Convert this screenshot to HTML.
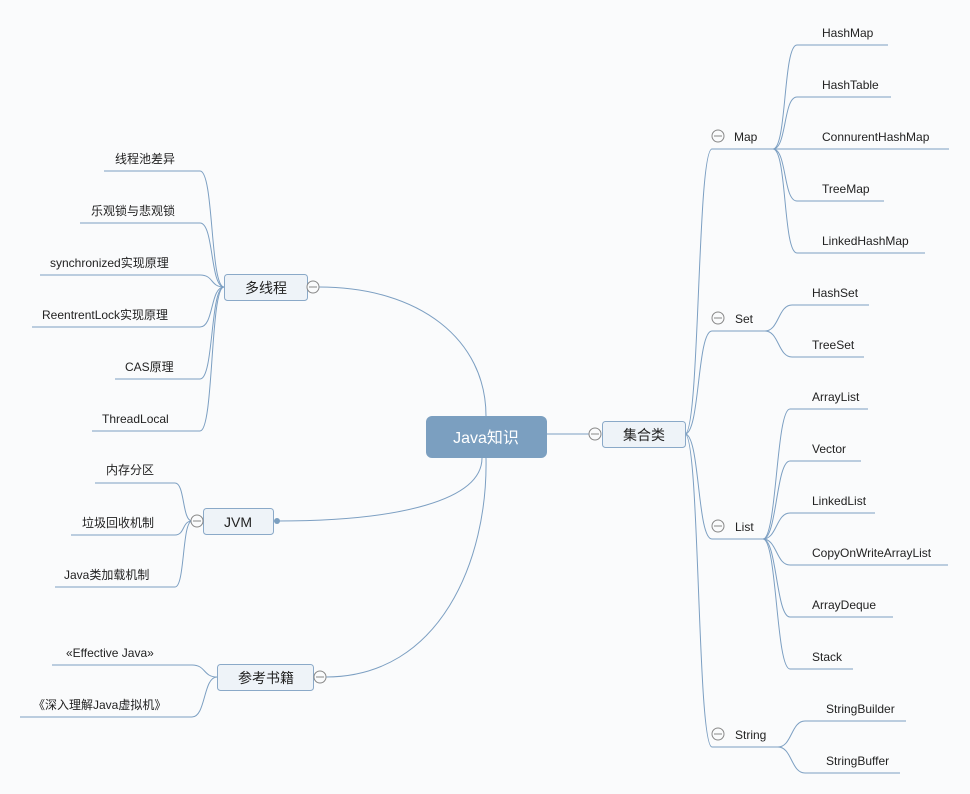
<!DOCTYPE html>
<html><head><meta charset="utf-8"><style>
html,body{margin:0;padding:0;background:#fafbfc;}
svg{display:block;font-family:"Liberation Sans","Noto Sans CJK SC",sans-serif;}
.l{fill:none;stroke:#7c9fc2;stroke-width:1;}
.t{font-size:12px;fill:#222;}
.b{font-size:14px;fill:#222;text-anchor:middle;}
.bx{fill:#eef3f8;stroke:#8aa9c8;stroke-width:1;}
.c{fill:#fafbfc;stroke:#888;stroke-width:1;}
</style></head><body>
<svg width="970" height="794" viewBox="0 0 970 794">
<rect width="970" height="794" fill="#fafbfc"/>
<!-- central connectors -->
<path class="l" d="M547 434 L589 434"/>
<path class="l" d="M319 287 C420 287 486 340 486 416"/>
<path class="l" d="M277 521 C400 521 482 500 482 458"/>
<path class="l" d="M326 677 C440 677 488 560 486 458"/>
<!-- 集合类 to secondaries -->
<path class="l" d="M685 434 C700 434 697 149 712 149 L773 149"/>
<path class="l" d="M685 434 C700 434 697 331 712 331 L765 331"/>
<path class="l" d="M685 434 C700 434 697 539 712 539 L763 539"/>
<path class="l" d="M685 434 C700 434 697 747 712 747 L778 747"/>
<!-- Map leaves -->
<path class="l" d="M773 149 C787 149 783 45 797 45 L888 45"/>
<path class="l" d="M773 149 C787 149 783 97 797 97 L891 97"/>
<path class="l" d="M773 149 L949 149"/>
<path class="l" d="M773 149 C787 149 783 201 797 201 L884 201"/>
<path class="l" d="M773 149 C787 149 783 253 797 253 L925 253"/>
<!-- Set leaves -->
<path class="l" d="M765 331 C779 331 778 305 792 305 L869 305"/>
<path class="l" d="M765 331 C779 331 778 357 792 357 L864 357"/>
<!-- List leaves -->
<path class="l" d="M763 539 C777 539 776 409 790 409 L868 409"/>
<path class="l" d="M763 539 C777 539 776 461 790 461 L861 461"/>
<path class="l" d="M763 539 C777 539 776 513 790 513 L875 513"/>
<path class="l" d="M763 539 C777 539 776 565 790 565 L948 565"/>
<path class="l" d="M763 539 C777 539 776 617 790 617 L893 617"/>
<path class="l" d="M763 539 C777 539 776 669 790 669 L853 669"/>
<!-- String leaves -->
<path class="l" d="M778 747 C792 747 791 721 805 721 L906 721"/>
<path class="l" d="M778 747 C792 747 791 773 805 773 L900 773"/>
<!-- 多线程 leaves -->
<path class="l" d="M224 287 C210 287 214 171 200 171 L104 171"/>
<path class="l" d="M224 287 C210 287 214 223 200 223 L80 223"/>
<path class="l" d="M224 287 C210 287 214 275 200 275 L40 275"/>
<path class="l" d="M224 287 C210 287 214 327 200 327 L32 327"/>
<path class="l" d="M224 287 C210 287 214 379 200 379 L115 379"/>
<path class="l" d="M224 287 C210 287 214 431 200 431 L92 431"/>
<!-- JVM leaves -->
<path class="l" d="M192 521 C182 521 185 483 175 483 L95 483"/>
<path class="l" d="M192 521 C182 521 185 535 175 535 L71 535"/>
<path class="l" d="M192 521 C182 521 185 587 175 587 L55 587"/>
<!-- books leaves -->
<path class="l" d="M217 677 C203 677 206 665 192 665 L52 665"/>
<path class="l" d="M217 677 C203 677 206 717 192 717 L20 717"/>
<!-- central node -->
<rect x="426" y="416" width="121" height="42" rx="6" fill="#7b9fc0"/>
<text x="486" y="443" font-size="16" fill="#fff" text-anchor="middle">Java知识</text>
<!-- boxes -->
<rect class="bx" x="602.5" y="421.5" width="83" height="26" rx="3"/>
<text class="b" x="644" y="440">集合类</text>
<rect class="bx" x="224.5" y="274.5" width="83" height="26" rx="3"/>
<text class="b" x="266" y="293">多线程</text>
<rect class="bx" x="203.5" y="508.5" width="70" height="26" rx="3"/>
<text class="b" x="238" y="527">JVM</text>
<rect class="bx" x="217.5" y="664.5" width="96" height="26" rx="3"/>
<text class="b" x="266" y="683">参考书籍</text>
<!-- collapse circles -->
<g>
<circle class="c" cx="595" cy="434" r="6"/><line x1="591" y1="434" x2="599" y2="434" stroke="#888"/>
<circle class="c" cx="313" cy="287" r="6"/><line x1="309" y1="287" x2="317" y2="287" stroke="#888"/>
<circle class="c" cx="197" cy="521" r="6"/><line x1="193" y1="521" x2="201" y2="521" stroke="#888"/>
<circle class="c" cx="320" cy="677" r="6"/><line x1="316" y1="677" x2="324" y2="677" stroke="#888"/>
<circle cx="277" cy="521" r="3" fill="#7b9fc0"/>
<circle class="c" cx="718" cy="136" r="6"/><line x1="714" y1="136" x2="722" y2="136" stroke="#888"/>
<circle class="c" cx="718" cy="318" r="6"/><line x1="714" y1="318" x2="722" y2="318" stroke="#888"/>
<circle class="c" cx="718" cy="526" r="6"/><line x1="714" y1="526" x2="722" y2="526" stroke="#888"/>
<circle class="c" cx="718" cy="734" r="6"/><line x1="714" y1="734" x2="722" y2="734" stroke="#888"/>
</g>
<!-- secondary labels -->
<text class="t" x="734" y="141">Map</text>
<text class="t" x="735" y="323">Set</text>
<text class="t" x="735" y="531">List</text>
<text class="t" x="735" y="739">String</text>
<!-- right leaves -->
<text class="t" x="822" y="37">HashMap</text>
<text class="t" x="822" y="89">HashTable</text>
<text class="t" x="822" y="141">ConnurentHashMap</text>
<text class="t" x="822" y="193">TreeMap</text>
<text class="t" x="822" y="245">LinkedHashMap</text>
<text class="t" x="812" y="297">HashSet</text>
<text class="t" x="812" y="349">TreeSet</text>
<text class="t" x="812" y="401">ArrayList</text>
<text class="t" x="812" y="453">Vector</text>
<text class="t" x="812" y="505">LinkedList</text>
<text class="t" x="812" y="557">CopyOnWriteArrayList</text>
<text class="t" x="812" y="609">ArrayDeque</text>
<text class="t" x="812" y="661">Stack</text>
<text class="t" x="826" y="713">StringBuilder</text>
<text class="t" x="826" y="765">StringBuffer</text>
<!-- left leaves -->
<text class="t" x="115" y="163">线程池差异</text>
<text class="t" x="91" y="215">乐观锁与悲观锁</text>
<text class="t" x="50" y="267">synchronized实现原理</text>
<text class="t" x="42" y="319">ReentrentLock实现原理</text>
<text class="t" x="125" y="371">CAS原理</text>
<text class="t" x="102" y="423">ThreadLocal</text>
<text class="t" x="106" y="474">内存分区</text>
<text class="t" x="82" y="527">垃圾回收机制</text>
<text class="t" x="64" y="579">Java类加载机制</text>
<text class="t" x="66" y="657">«Effective Java»</text>
<text class="t" x="33" y="709">《深入理解Java虚拟机》</text>
</svg>
</body></html>
